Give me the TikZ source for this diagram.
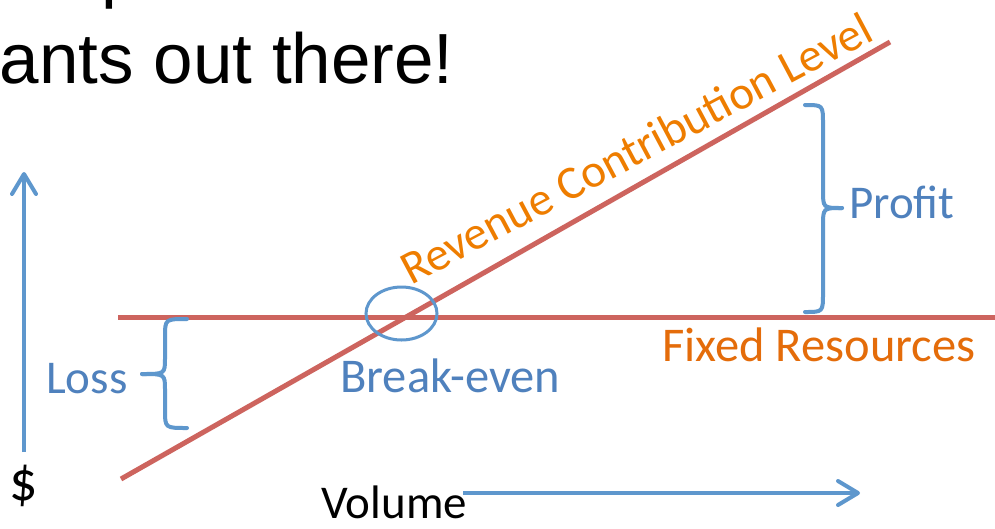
\documentclass[tikz,border=0pt]{standalone}
\usepackage{fontspec}
\setmainfont{Carlito}
\newfontfamily\titlefont{Liberation Sans}
\usetikzlibrary{arrows.meta,shapes.geometric}

\definecolor{lnblue}{RGB}{94,151,205}
\definecolor{txtblue}{RGB}{79,129,189}
\definecolor{lnred}{RGB}{205,100,94}
\definecolor{txtorange}{RGB}{228,108,10}
\definecolor{revorange}{RGB}{238,125,0}

\tikzset{
  redline/.style={draw=lnred, line width=5pt},
  axisarrow/.style={draw=lnblue, line width=4pt,
    -{Straight Barb[length=20pt,width=24pt,line width=4pt,round]}},
  bracestroke/.style={draw=lnblue, line width=4pt, line cap=round},
  lbl/.style={inner sep=0pt, font=\fontsize{47}{56}\selectfont},
  widelbl/.style={inner sep=0pt, font=\fontsize{48.5}{58}\selectfont},
  bluelbl/.style={lbl, text=txtblue},
}

\begin{document}
\begin{tikzpicture}[x=1pt, y=-1pt]
  \useasboundingbox (0,0) rectangle (995,528);
  \clip (0,0) rectangle (995,528);
  \fill[white] (0,0) rectangle (995,528);

  % heading lines running off the top-left corner
  \node[anchor=base west, inner sep=0pt, font=\titlefont\fontsize{71}{85}\selectfont] (prevline) at (101,-6) {p};
  \node[anchor=base east, inner sep=0pt, font=\titlefont\fontsize{71}{85}\selectfont] (heading) at (454,83) {ants out there!};

  % fixed resources and revenue lines
  \coordinate (fixL) at (118,317);
  \coordinate (fixR) at (1000,317);
  \coordinate (revA) at (121,479);
  \coordinate (revB) at (890,42);
  \draw[redline] (fixL) -- (fixR);
  \draw[redline] (revA) -- (revB);

  % break-even marker
  \node[draw=lnblue, line width=3pt, ellipse, minimum width=71pt, minimum height=53pt, inner sep=0pt] (be) at (401.5,313.5) {};

  % axes
  \coordinate (yFoot) at (24,452);
  \coordinate (yTip) at (24,172);
  \draw[axisarrow] (yFoot) -- (yTip);
  \node[anchor=base, inner sep=0pt, font=\fontsize{56}{64}\selectfont] (dollar) at (24,500) {\$};

  \coordinate (xFoot) at (463,493);
  \coordinate (xTip) at (860,493);
  \draw[axisarrow] (xFoot) -- (xTip);
  \node[lbl, anchor=base west] (volume) at (321,518) {Volume};

  % profit brace
  \coordinate (pTop) at (805,105);
  \coordinate (pTip) at (842,208);
  \coordinate (pBot) at (805,312);
  \draw[bracestroke] (pTop) .. controls (823,105) .. (823,124) -- (823,190)
    .. controls (823,208) .. (pTip);
  \draw[bracestroke] (pTip) .. controls (823,208) .. (823,226) -- (823,293)
    .. controls (823,312) .. (pBot);
  \node[bluelbl, anchor=base west] (profit) at (849,218) {Profit};

  % loss brace
  \coordinate (lTop) at (187,319);
  \coordinate (lTip) at (142,374);
  \coordinate (lBot) at (187,428);
  \draw[bracestroke] (lTop) .. controls (165,319) .. (165,337) -- (165,358)
    .. controls (165,374) .. (lTip);
  \draw[bracestroke] (lTip) .. controls (165,374) .. (165,390) -- (165,410)
    .. controls (165,428) .. (lBot);
  \node[bluelbl, anchor=base west] (loss) at (46,393) {Loss};

  % labels
  \node[widelbl, text=txtblue, anchor=base west] (breakeven) at (340,392) {Break-even};
  \node[widelbl, text=txtorange, anchor=base west] (fixed) at (662,361) {Fixed Resources};
  \node[lbl, text=revorange, anchor=base west, rotate=28] (revenue) at (411,286) {Revenue Contribution Level};
\end{tikzpicture}
\end{document}
